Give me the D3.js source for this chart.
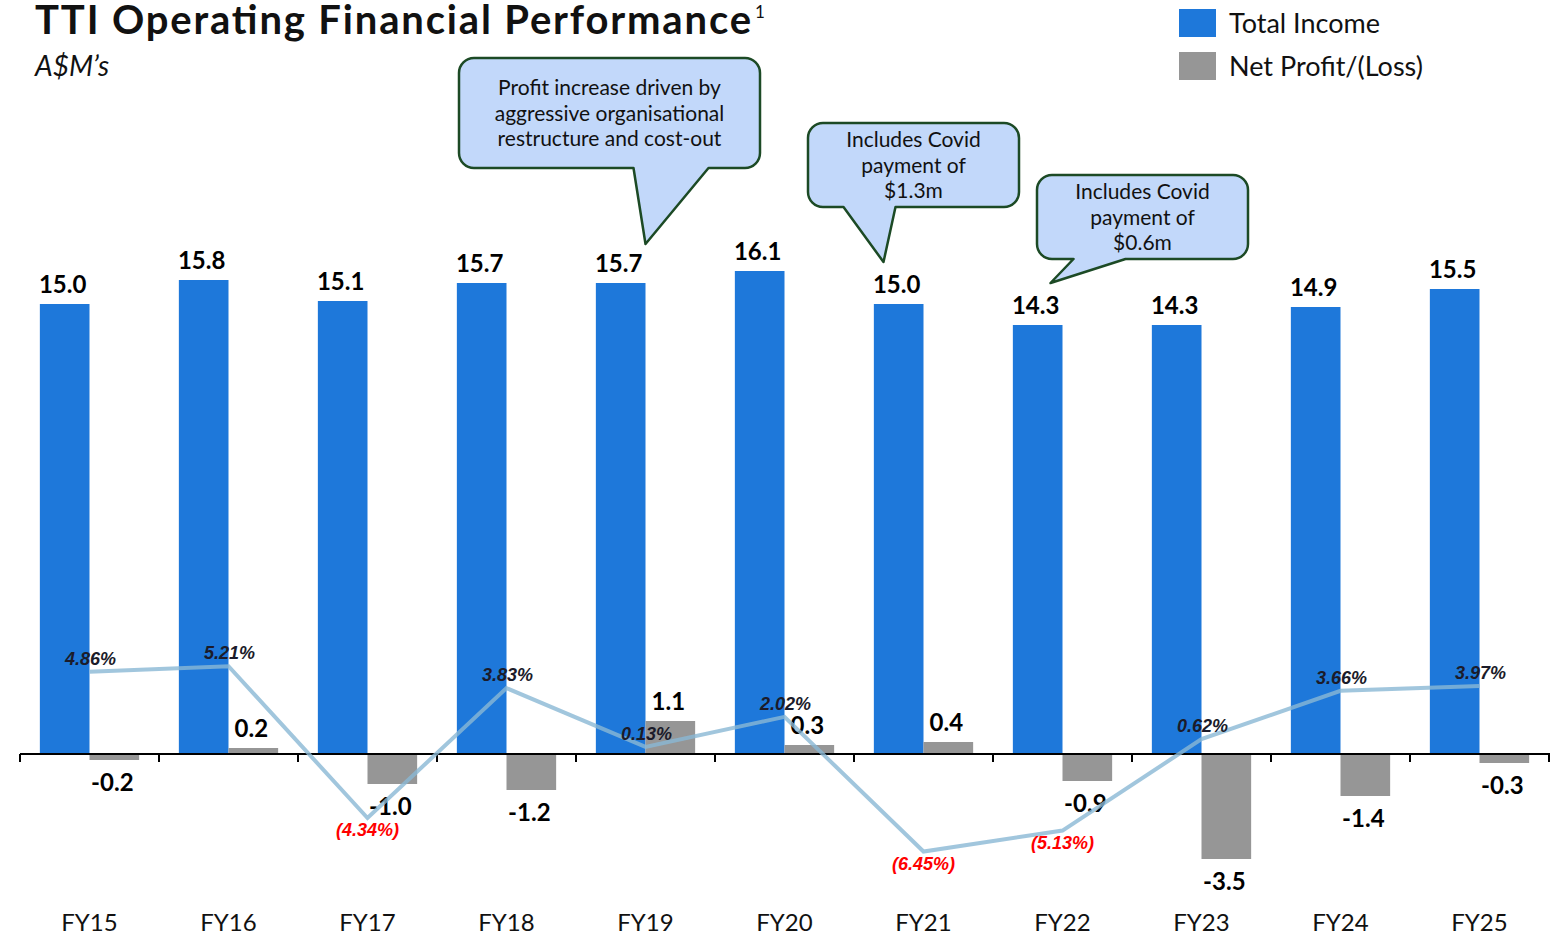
<!DOCTYPE html>
<html>
<head>
<meta charset="utf-8">
<script src="https://cdn.jsdelivr.net/npm/d3@7"></script>
<style>
  html, body { margin: 0; padding: 0; background: #fff; }
  svg { display: block; font-family: Lato, "Open Sans", sans-serif; }
</style>
</head>
<body>
<div id="chart"></div>
<script>
var years = ["FY15", "FY16", "FY17", "FY18", "FY19", "FY20", "FY21", "FY22", "FY23", "FY24", "FY25"];
var totalIncome = [15.0, 15.8, 15.1, 15.7, 15.7, 16.1, 15.0, 14.3, 14.3, 14.9, 15.5];
var netProfit = [-0.2, 0.2, -1.0, -1.2, 1.1, 0.3, 0.4, -0.9, -3.5, -1.4, -0.3];
var margin = [4.86, 5.21, -4.34, 3.83, 0.13, 2.02, -6.45, -5.13, 0.62, 3.66, 3.97];
var legendLabels = ["Total Income", "Net Profit/(Loss)"];
var callouts = [
  {year: "FY19", lines: ["Profit increase driven by", "aggressive organisational", "restructure and cost-out"]},
  {year: "FY21", lines: ["Includes Covid", "payment of", "$1.3m"]},
  {year: "FY22", lines: ["Includes Covid", "payment of", "$0.6m"]}
];

(function () {
  var width = 1558, height = 937;
  var blue = "#1e78da", grey = "#969696", lineCol = "#8ab8d4";

  var svg = d3.select("#chart").append("svg")
    .attr("width", width)
    .attr("height", height);

  var x = d3.scaleBand().domain(years).range([20, 1549]);
  var xSub = d3.scaleBand().domain(["income", "profit"])
    .range([0, x.bandwidth()]).paddingOuter(0.4);
  var y = d3.scaleLinear().domain([-4, 17]).range([874, 244]);
  var yPct = d3.scaleLinear().domain([-8, 6]).range([876.2, 653.6]);

  var rows = years.map(function (d, i) {
    return {year: d, income: totalIncome[i], profit: netProfit[i], pct: margin[i]};
  });

  // title
  svg.append("text")
    .attr("x", 35).attr("y", 34)
    .attr("font-size", 40).attr("font-weight", 700).attr("fill", "#111")
    .attr("textLength", 716).attr("lengthAdjust", "spacing")
    .text("TTI Operating Financial Performance");
  svg.append("text")
    .attr("x", 755).attr("y", 18)
    .attr("font-size", 17).attr("fill", "#111")
    .text("1");

  svg.append("text")
    .attr("x", 35).attr("y", 76)
    .attr("font-size", 28).attr("font-style", "italic").attr("fill", "#111")
    .text("A$M\u2019s");

  // legend
  var leg = svg.selectAll(".leg").data(legendLabels).enter().append("g")
    .attr("class", "leg")
    .attr("transform", function (d, i) { return "translate(1179," + (9 + i * 43) + ")"; });
  leg.append("rect").attr("width", 37).attr("height", 28)
    .attr("fill", function (d, i) { return i === 0 ? blue : grey; });
  leg.append("text").attr("x", 50).attr("y", 24)
    .attr("font-size", 27).attr("fill", "#111")
    .text(function (d) { return d; });

  // bars
  var g = svg.selectAll(".yr").data(rows).enter().append("g")
    .attr("class", "yr")
    .attr("transform", function (d) { return "translate(" + x(d.year) + ",0)"; });

  g.append("rect")
    .attr("x", xSub("income")).attr("width", xSub.bandwidth())
    .attr("y", function (d) { return y(d.income); })
    .attr("height", function (d) { return y(0) - y(d.income); })
    .attr("fill", blue);

  g.append("rect")
    .attr("x", xSub("profit")).attr("width", xSub.bandwidth())
    .attr("y", function (d) { return y(Math.max(0, d.profit)); })
    .attr("height", function (d) { return Math.abs(y(0) - y(d.profit)); })
    .attr("fill", grey);

  // axis
  var axis = svg.append("g").attr("transform", "translate(0," + y(0) + ")");
  axis.append("line").attr("x1", 20).attr("x2", 1550)
    .attr("stroke", "#000").attr("stroke-width", 2);
  axis.selectAll(".tk").data(years.concat(["end"])).enter().append("line")
    .attr("x1", function (d, i) { return 20 + i * x.step(); })
    .attr("x2", function (d, i) { return 20 + i * x.step(); })
    .attr("y1", 0).attr("y2", 8)
    .attr("stroke", "#000").attr("stroke-width", 2);

  svg.selectAll(".xl").data(years).enter().append("text")
    .attr("x", function (d) { return x(d) + x.bandwidth() / 2; })
    .attr("y", 931)
    .attr("text-anchor", "middle").attr("font-size", 24).attr("fill", "#111")
    .text(function (d) { return d; });

  // margin line
  var line = d3.line()
    .x(function (d) { return x(d.year) + x.bandwidth() / 2; })
    .y(function (d) { return yPct(d.pct); });
  svg.append("path").datum(rows)
    .attr("d", line)
    .attr("fill", "none").attr("stroke", lineCol).attr("stroke-opacity", 0.8)
    .attr("stroke-width", 4);

  // value labels
  g.append("text")
    .attr("x", xSub("income") + xSub.bandwidth() / 2 - 2)
    .attr("y", function (d) { return y(d.income) - 11; })
    .attr("text-anchor", "middle").attr("font-size", 24).attr("font-weight", 700).attr("fill", "#000")
    .text(function (d) { return d.income.toFixed(1); });

  g.append("text")
    .attr("x", xSub("profit") + xSub.bandwidth() / 2 - 2)
    .attr("y", function (d) { return d.profit >= 0 ? y(d.profit) - 11 : y(d.profit) + 31; })
    .attr("text-anchor", "middle").attr("font-size", 24).attr("font-weight", 700).attr("fill", "#000")
    .text(function (d) { return d.profit.toFixed(1); });

  // margin labels
  svg.selectAll(".pl").data(rows).enter().append("text")
    .attr("x", function (d) { return x(d.year) + x.bandwidth() / 2 + (d.pct >= 0 ? 1 : 0); })
    .attr("y", function (d) { return d.pct >= 0 ? yPct(d.pct) - 7 : yPct(d.pct) + 18; })
    .attr("text-anchor", "middle")
    .attr("font-family", "'Liberation Sans', Arial, sans-serif")
    .attr("font-size", 18).attr("font-weight", 700).attr("font-style", "italic")
    .attr("fill", function (d) { return d.pct < 0 ? "#ff0000" : "#1b1b2a"; })
    .text(function (d) { return d.pct < 0 ? "(" + Math.abs(d.pct).toFixed(2) + "%)" : d.pct.toFixed(2) + "%"; });

  // callouts: box size, offset from the year's centre, tail points relative to it
  var boxes = [
    {w: 301, h: 110, top: 58, dx: -36, ty: 37, tail: [[-12, 0], [63, 0], [0, 76]]},
    {w: 211, h: 84, top: 123, dx: -10, ty: 24, tail: [[-80, 0], [-28, 0], [-40, 55]]},
    {w: 211, h: 84, top: 175, dx: 80, ty: 24, tail: [[11, 0], [63, 0], [-12, 24]]}
  ];
  callouts.forEach(function (c, i) {
    var b = boxes[i];
    var tx = x(c.year) + x.bandwidth() / 2;
    var cx = tx + b.dx;
    var left = cx - b.w / 2, bottom = b.top + b.h, r = 15;
    var t = b.tail;
    var p = d3.path();
    p.moveTo(left + r, b.top);
    p.lineTo(left + b.w - r, b.top);
    p.arcTo(left + b.w, b.top, left + b.w, b.top + r, r);
    p.lineTo(left + b.w, bottom - r);
    p.arcTo(left + b.w, bottom, left + b.w - r, bottom, r);
    p.lineTo(tx + t[1][0], bottom);
    p.lineTo(tx + t[2][0], bottom + t[2][1]);
    p.lineTo(tx + t[0][0], bottom);
    p.lineTo(left + r, bottom);
    p.arcTo(left, bottom, left, bottom - r, r);
    p.lineTo(left, b.top + r);
    p.arcTo(left, b.top, left + r, b.top, r);
    p.closePath();
    svg.append("path").attr("d", p.toString())
      .attr("fill", "#c2d8fa").attr("stroke", "#1c4a25").attr("stroke-width", 2.5)
      .attr("stroke-linejoin", "round");
    svg.append("text")
      .attr("text-anchor", "middle").attr("font-size", 21).attr("fill", "#111")
      .selectAll("tspan").data(c.lines).enter().append("tspan")
      .attr("x", cx)
      .attr("y", function (d, k) { return b.top + b.ty + k * 25.5; })
      .text(function (d) { return d; });
  });
}());
</script>
</body>
</html>
